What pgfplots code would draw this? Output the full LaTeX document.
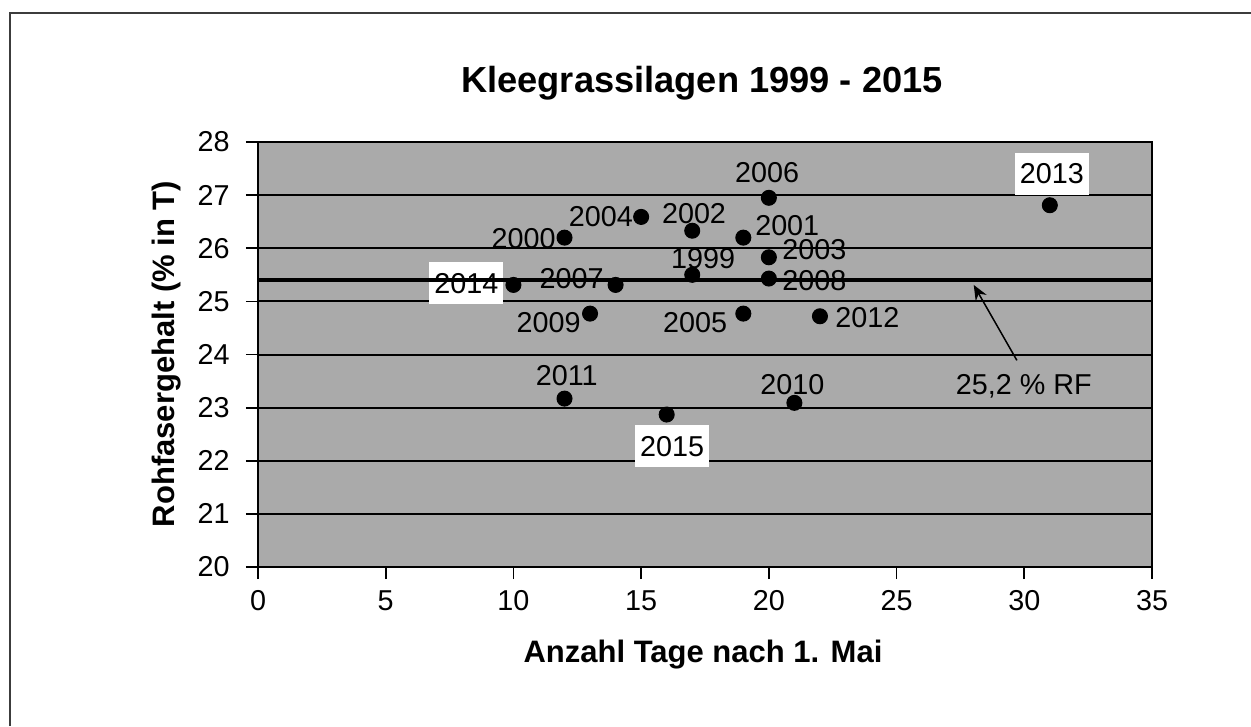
\documentclass[border=0pt]{standalone}
\usepackage{fontspec}
\setmainfont{Liberation Sans}
\usepackage{pgfplots}
\pgfplotsset{compat=1.18}
\usetikzlibrary{arrows.meta}
\definecolor{plotgray}{RGB}{170,170,170}
\definecolor{framegray}{RGB}{60,60,60}

\begin{document}
\begin{tikzpicture}[font=\fontsize{11.5}{13}\selectfont]
% page size and the cut outer frame (only top and left edge visible)
\path[use as bounding box] (-103.2pt,-63.6pt) rectangle (397.2pt,226.8pt);
\draw[framegray, line width=0.8pt] (-99.2pt,-63.6pt) -- (-99.2pt,221.6pt) -- (397.2pt,221.6pt);

\begin{axis}[
  at={(0,0)}, anchor=south west,
  scale only axis,
  width=357.6pt, height=170pt,
  xmin=0, xmax=35, ymin=20, ymax=28,
  xtick={0,5,...,35},
  ytick={20,21,...,28},
  ymajorgrids,
  major grid style={black, line width=0.8pt},
  axis background/.style={fill=plotgray},
  axis line style={black, line width=0.8pt},
  tick align=outside,
  major tick length=4.8pt,
  tick style={black, line width=0.7pt},
  xtick pos=bottom, ytick pos=left,
  /pgf/number format/assume math mode=true,
  ticklabel style={font=\fontsize{11.5}{13}\selectfont},
  yticklabel style={xshift=-3pt},
  xticklabel style={yshift=-1pt},
  every node near coord/.append style={font=\fontsize{11.5}{13}\selectfont},
]
% white label boxes first, so the 25,4 line is drawn over them
\node[fill=white, minimum width=29.6pt, minimum height=16.8pt, inner sep=0pt] at (axis cs:8.16,25.34) {2014};
\node[fill=white, minimum width=29.6pt, minimum height=16.8pt, inner sep=0pt] at (axis cs:16.21,22.27) {2015};
\node[fill=white, minimum width=29.6pt, minimum height=16.8pt, inner sep=0pt] at (axis cs:31.08,27.40) {2013};

% mean line
\addplot[black, line width=1.5pt] coordinates {(0,25.4) (35,25.4)};

% silages
\addplot[only marks, mark=*, mark size=3pt, black] coordinates {
  (17,25.50) % 1999
  (12,26.20) % 2000
  (19,26.20) % 2001
  (17,26.33) % 2002
  (20,25.83) % 2003
  (15,26.59) % 2004
  (19,24.77) % 2005
  (20,26.95) % 2006
  (14,25.31) % 2007
  (20,25.43) % 2008
  (13,24.77) % 2009
  (21,23.09) % 2010
  (12,23.17) % 2011
  (22,24.72) % 2012
  (31,26.81) % 2013
  (10,25.31) % 2014
  (16,22.87) % 2015
};

\node at (axis cs:17.43,25.80) {1999};
\node at (axis cs:10.40,26.19) {2000};
\node at (axis cs:20.72,26.42) {2001};
\node at (axis cs:17.07,26.66) {2002};
\node at (axis cs:21.78,25.97) {2003};
\node at (axis cs:13.42,26.59) {2004};
\node at (axis cs:17.11,24.61) {2005};
\node at (axis cs:19.93,27.43) {2006};
\node at (axis cs:12.28,25.42) {2007};
\node at (axis cs:21.78,25.40) {2008};
\node at (axis cs:11.38,24.61) {2009};
\node at (axis cs:20.92,23.44) {2010};
\node at (axis cs:12.09,23.61) {2011};
\node at (axis cs:23.86,24.69) {2012};

\draw[black, line width=0.6pt, -{Stealth[length=6pt, width=5pt]}] (axis cs:29.71,23.89) -- (axis cs:28.02,25.31);
\node at (axis cs:29.98,23.40) {25,2 \% RF};
\end{axis}

\node[font=\bfseries\fontsize{14.5}{16}\selectfont] at (177.6pt,193.6pt) {Kleegrassilagen 1999 - 2015};
\node[font=\bfseries\fontsize{12.4}{14}\selectfont] at (178pt,-35.2pt) {Anzahl Tage nach 1. Mai};
\node[font=\bfseries\fontsize{12.4}{14}\selectfont, rotate=90] at (-36.4pt,85.2pt) {Rohfasergehalt (\% in T)};
\end{tikzpicture}
\end{document}
